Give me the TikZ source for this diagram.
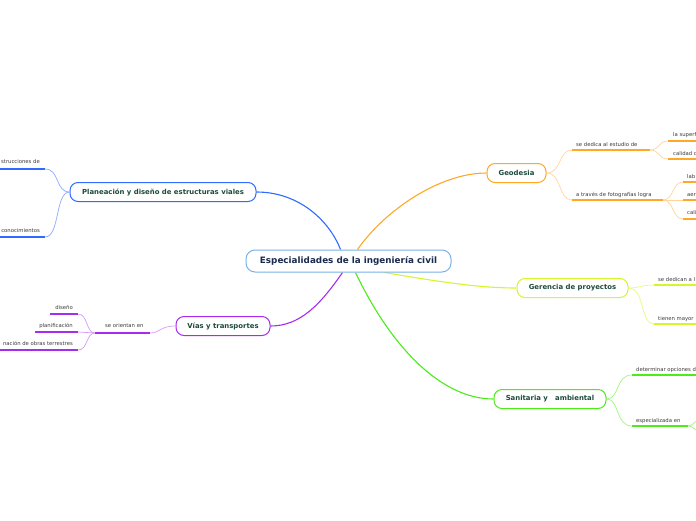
\documentclass[tikz,border=0pt]{standalone}
\usepackage{fontspec}
\setmainfont{DejaVu Sans}
\usetikzlibrary{backgrounds,calc}
\definecolor{cblue}{HTML}{2F6BFF}
\definecolor{lblue}{HTML}{8FA9FF}
\definecolor{cpurp}{HTML}{A62CF0}
\definecolor{lpurp}{HTML}{D49BFA}
\definecolor{corng}{HTML}{FFA726}
\definecolor{lorng}{HTML}{FFD59A}
\definecolor{cyell}{HTML}{D6F52A}
\definecolor{lyell}{HTML}{E6FA80}
\definecolor{cgrn}{HTML}{4CEB1A}
\definecolor{lgrn}{HTML}{9CF77C}
\definecolor{cbord}{HTML}{7AB2E6}
\definecolor{ctext}{HTML}{1B2A4E}
\definecolor{mtext}{HTML}{1D4A3C}
\definecolor{stext}{HTML}{3A3A3A}
\tikzset{
  mainnode/.style={draw=#1, line width=1pt, rounded corners=8pt, fill=white, text=mtext,
    font=\bfseries\fontsize{6.9}{8}\selectfont, inner sep=0pt, minimum height=19pt},
  centernode/.style={draw=cbord, line width=1pt, rounded corners=9pt, fill=white, text=ctext,
    font=\bfseries\fontsize{8.8}{10}\selectfont, inner sep=0pt, minimum height=22pt, minimum width=205pt},
  subtext/.style={text=stext, font=\fontsize{5.3}{6}\selectfont, inner sep=0pt, anchor=base west},
  subtextr/.style={text=stext, font=\fontsize{5.3}{6}\selectfont, inner sep=0pt, anchor=base east},
  branch/.style={draw=#1, line width=1.1pt},
  uline/.style={draw=#1, line width=2pt},
  thin/.style={draw=#1, line width=0.7pt},
}
\begin{document}
\begin{tikzpicture}[x=1pt,y=-1pt]
\useasboundingbox (0,0) rectangle (696,520);
\clip (0,0) rectangle (696,520);
% main nodes
\node[centernode] (c) at (348.5,261) {Especialidades de la ingeniería civil};
\node[mainnode=cblue, minimum width=186pt] (pl) at (163,192) {Planeación y diseño de estructuras viales};
\node[mainnode=cpurp, minimum width=94pt] (vi) at (223,326) {Vías y transportes};
\node[mainnode=corng, minimum width=59pt] (ge) at (516.5,173) {Geodesia};
\node[mainnode=cyell, minimum width=111pt] (gr) at (572.5,288) {Gerencia de proyectos};
\node[mainnode=cgrn, minimum width=112pt] (sa) at (550,399) {Sanitaria y \ \ ambiental};

% subtopic texts
\node[subtextr] (p1) at (40,163) {strucciones de};
\node[subtextr] (p2) at (40,232) {conocimientos};
\node[subtext] (v0) at (105,327) {se orientan en};
\node[subtextr] (v1) at (73,309) {diseño};
\node[subtextr] (v2) at (73,327) {planificación};
\node[subtextr] (v3) at (73,345) {nación de obras terrestres};
\node[subtext] (g1) at (576,146) {se dedica al estudio de};
\node[subtext] (g2) at (576,196) {a través de fotografías logra};
\node[subtext] (g11) at (673,136) {la superf};
\node[subtext] (g12) at (673,155) {calidad d};
\node[subtext] (g21) at (687,178) {lab};
\node[subtext] (g22) at (687,196) {aer};
\node[subtext] (g23) at (687,214) {cali};
\node[subtext] (r1) at (658,281) {se dedican a l};
\node[subtext] (r2) at (658,320) {tienen mayor};
\node[subtext] (s1) at (636,371) {determinar opciones d};
\node[subtext] (s2) at (636,422) {especializada en};

% underline coordinates
\coordinate (p1a) at (0,169); \coordinate (p1b) at (45,169);
\coordinate (p2a) at (0,237); \coordinate (p2b) at (45,237);
\coordinate (v0a) at (95,333); \coordinate (v0b) at (150,333);
\coordinate (v1a) at (50,314); \coordinate (v1b) at (78,314);
\coordinate (v2a) at (35,332); \coordinate (v2b) at (78,332);
\coordinate (v3a) at (0,350); \coordinate (v3b) at (78,350);
\coordinate (g1a) at (572,150); \coordinate (g1b) at (650,150);
\coordinate (g2a) at (572,200); \coordinate (g2b) at (663,200);
\coordinate (g11a) at (668,141); \coordinate (g11b) at (700,141);
\coordinate (g12a) at (668,159); \coordinate (g12b) at (700,159);
\coordinate (g21a) at (683,182); \coordinate (g21b) at (700,182);
\coordinate (g22a) at (683,200); \coordinate (g22b) at (700,200);
\coordinate (g23a) at (683,219); \coordinate (g23b) at (700,219);
\coordinate (r1a) at (654,285); \coordinate (r1b) at (700,285);
\coordinate (r2a) at (654,324); \coordinate (r2b) at (700,324);
\coordinate (s1a) at (632,375); \coordinate (s1b) at (700,375);
\coordinate (s2a) at (632,426); \coordinate (s2b) at (688,426);
\coordinate (s2c) at (700,420); \coordinate (s2d) at (700,431);

\begin{pgfonlayer}{background}
% main branches
\draw[branch=cblue] ($(c.north)+(-8,0)$) .. controls (330,222) and (300,192) .. (pl.east);
\draw[branch=corng] ($(c.north)+(9,0)$) .. controls (385,210) and (440,173) .. (ge.west);
\draw[branch=cyell] ($(c.south)+(36,0)$) .. controls (440,282) and (480,288) .. (gr.west);
\draw[branch=cgrn] ($(c.south)+(7,0)$) .. controls (390,345) and (440,399) .. (sa.west);
\draw[branch=cpurp] ($(c.south)+(-6,0)$) .. controls (320,305) and (300,326) .. (vi.east);
% underlines
\foreach \n/\c in {p1/cblue,p2/cblue,v0/cpurp,v1/cpurp,v2/cpurp,v3/cpurp,g1/corng,g2/corng,g11/corng,g12/corng,g21/corng,g22/corng,g23/corng,r1/cyell,r2/cyell,s1/cgrn,s2/cgrn}
  \draw[uline=\c] (\n a) -- (\n b);
% thin connectors
\draw[thin=lblue] (pl.west) .. controls (55,192) and (60,169) .. (p1b);
\draw[thin=lblue] (pl.west) .. controls (55,192) and (60,237) .. (p2b);
\draw[thin=lpurp] (vi.west) .. controls (160,326) and (160,333) .. (v0b);
\draw[thin=lpurp] (v0a) .. controls (86,333) and (88,314) .. (v1b);
\draw[thin=lpurp] (v0a) -- (v2b);
\draw[thin=lpurp] (v0a) .. controls (86,333) and (88,350) .. (v3b);
\draw[thin=lorng] (ge.east) .. controls (562,173) and (558,150) .. (g1a);
\draw[thin=lorng] (ge.east) .. controls (562,173) and (558,200) .. (g2a);
\draw[thin=lorng] (g1b) .. controls (660,150) and (658,141) .. (g11a);
\draw[thin=lorng] (g1b) .. controls (660,150) and (658,159) .. (g12a);
\draw[thin=lorng] (g2b) .. controls (674,200) and (672,182) .. (g21a);
\draw[thin=lorng] (g2b) -- (g22a);
\draw[thin=lorng] (g2b) .. controls (674,200) and (672,219) .. (g23a);
\draw[thin=lyell] (gr.east) .. controls (640,288) and (640,285) .. (r1a);
\draw[thin=lyell] (gr.east) .. controls (645,288) and (640,324) .. (r2a);
\draw[thin=lgrn] (sa.east) .. controls (620,399) and (615,375) .. (s1a);
\draw[thin=lgrn] (sa.east) .. controls (620,399) and (615,426) .. (s2a);
\draw[thin=lgrn] (s2b) .. controls (694,426) and (694,420) .. (s2c);
\draw[thin=lgrn] (s2b) .. controls (694,426) and (694,431) .. (s2d);
\end{pgfonlayer}
\end{tikzpicture}
\end{document}
